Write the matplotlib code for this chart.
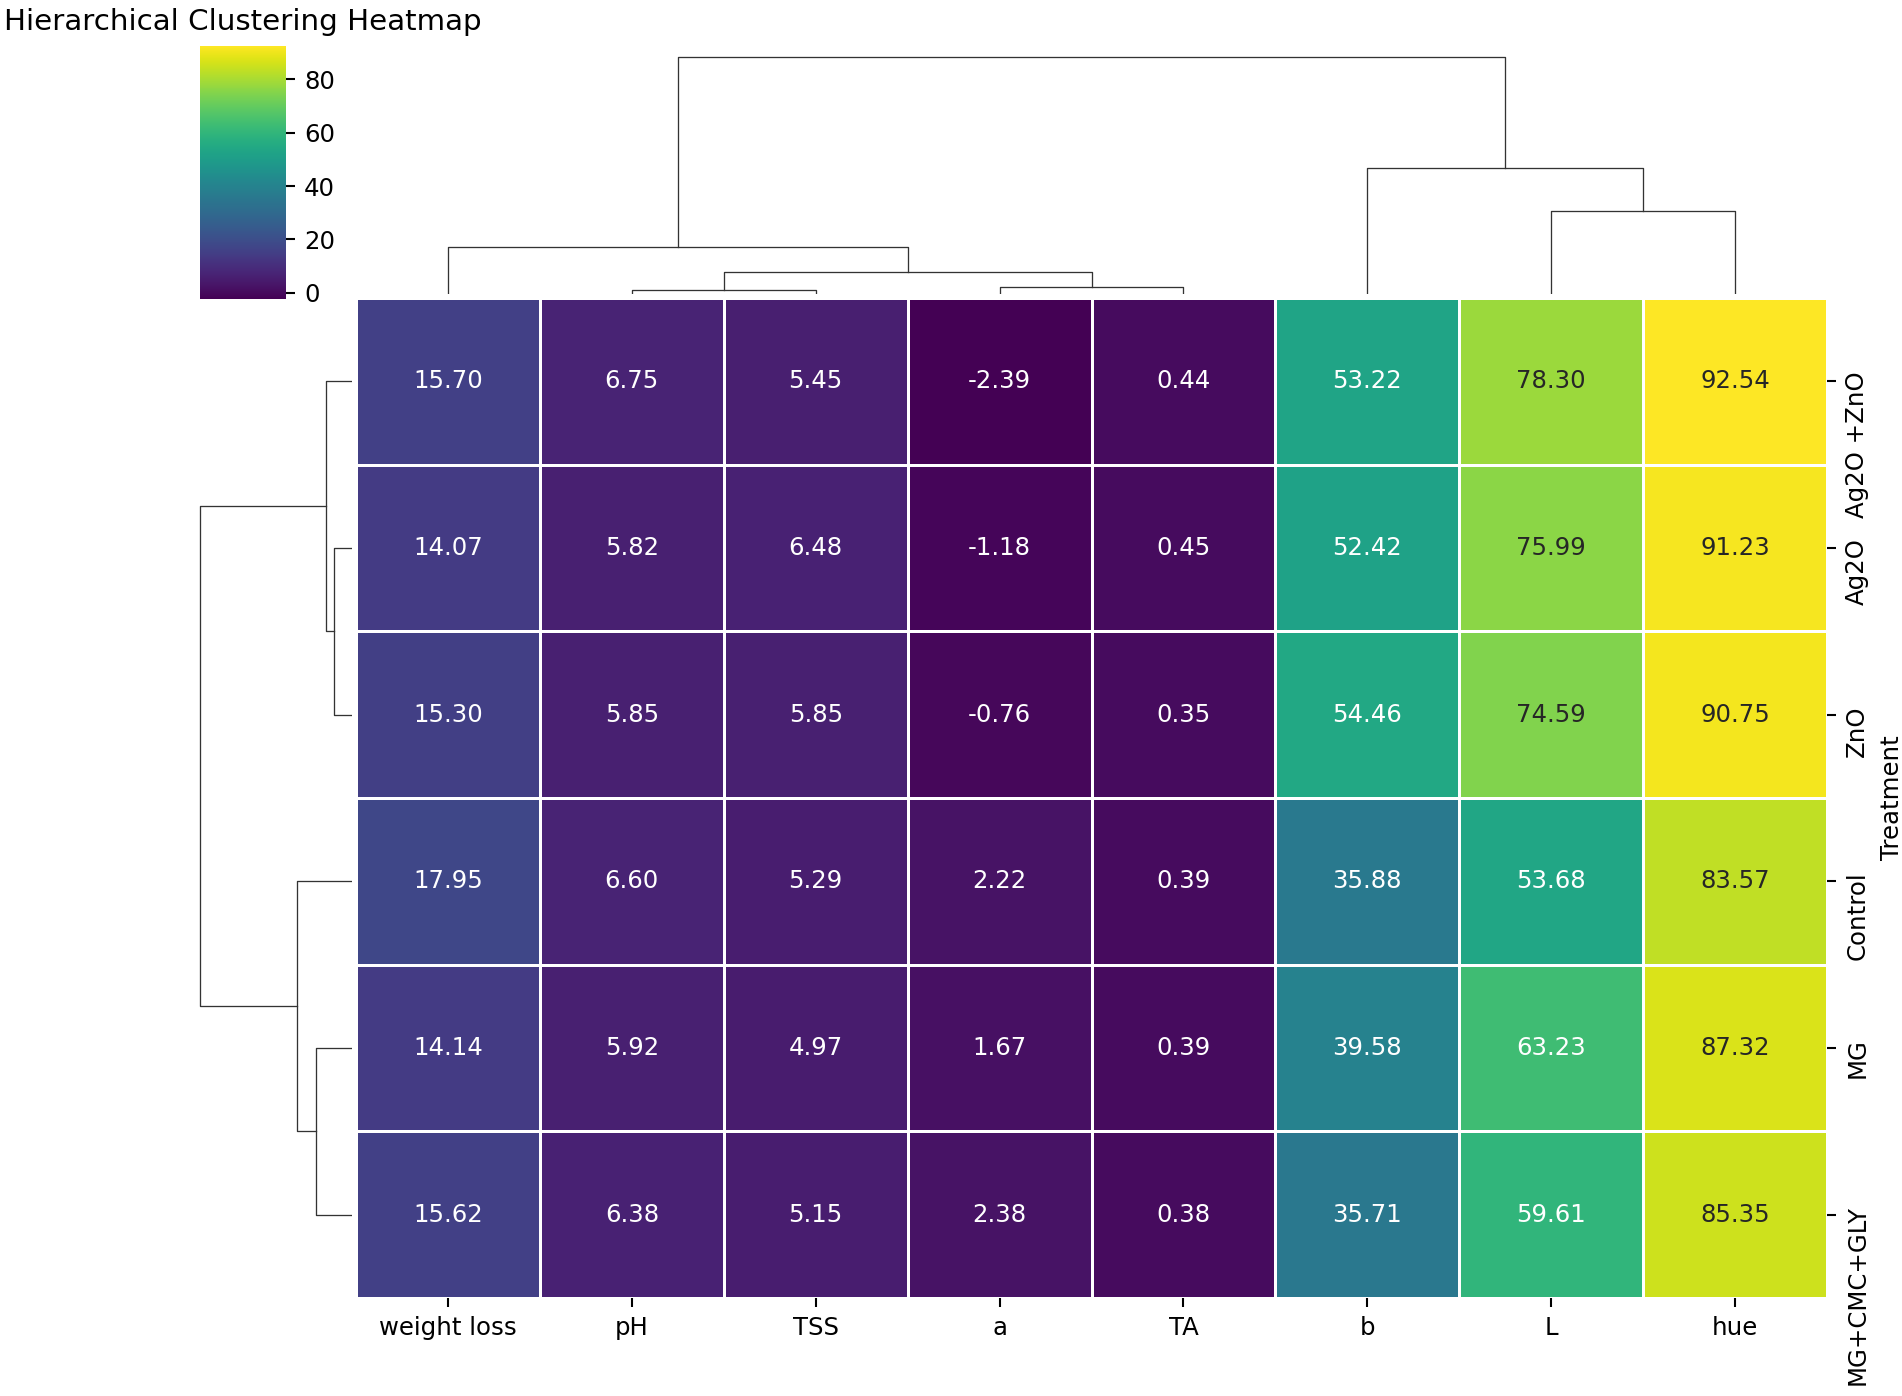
import numpy as np
import matplotlib
matplotlib.use("Agg")
import matplotlib.pyplot as plt
from matplotlib import colors as mcolors

treatments = ["Ag2O +ZnO", "Ag2O", "ZnO", "Control", "MG", "MG+CMC+GLY"]
features = ["weight loss", "pH", "TSS", "a", "TA", "b", "L", "hue"]

weight_loss = [15.70, 14.07, 15.30, 17.95, 14.14, 15.62]
ph = [6.75, 5.82, 5.85, 6.60, 5.92, 6.38]
tss = [5.45, 6.48, 5.85, 5.29, 4.97, 5.15]
a_val = [-2.39, -1.18, -0.76, 2.22, 1.67, 2.38]
ta = [0.44, 0.45, 0.35, 0.39, 0.39, 0.38]
b_val = [53.22, 52.42, 54.46, 35.88, 39.58, 35.71]
l_val = [78.30, 75.99, 74.59, 53.68, 63.23, 59.61]
hue = [92.54, 91.23, 90.75, 83.57, 87.32, 85.35]

data = np.column_stack([weight_loss, ph, tss, a_val, ta, b_val, l_val, hue])

FS = 9.4   # base font size
TFS = 11.3  # title size


def average_linkage(X):
    # naive average linkage on euclidean distance, scipy-like output
    n = X.shape[0]
    d = np.sqrt(((X[:, None, :] - X[None, :, :]) ** 2).sum(-1))
    clusters = {i: [i] for i in range(n)}
    Z = []
    nxt = n
    while len(clusters) > 1:
        keys = sorted(clusters)
        best = None
        for i in range(len(keys)):
            for j in range(i + 1, len(keys)):
                ma, mb = clusters[keys[i]], clusters[keys[j]]
                dist = d[np.ix_(ma, mb)].mean()
                if best is None or dist < best[2]:
                    best = (keys[i], keys[j], dist)
        a, b, dist = best
        Z.append([min(a, b), max(a, b), dist, len(clusters[a]) + len(clusters[b])])
        clusters[nxt] = clusters.pop(a) + clusters.pop(b)
        nxt += 1
    return np.array(Z)


def dendro_coords(Z, n):
    order = []

    def leaves(node):
        if node < n:
            order.append(node)
        else:
            leaves(int(Z[node - n, 0]))
            leaves(int(Z[node - n, 1]))
    leaves(2 * n - 2)
    pos = {leaf: 5 + 10 * i for i, leaf in enumerate(order)}
    height = {leaf: 0.0 for leaf in range(n)}
    segs = []
    for k, (a, b, dist, _) in enumerate(Z):
        a, b = int(a), int(b)
        xa, xb = pos[a], pos[b]
        segs.append(([xa, xa, xb, xb], [height[a], dist, dist, height[b]]))
        pos[n + k] = (xa + xb) / 2
        height[n + k] = dist
    return order, segs, Z[:, 2].max()


row_Z = average_linkage(data)
col_Z = average_linkage(data.T)
row_order, row_segs, row_max = dendro_coords(row_Z, data.shape[0])
col_order, col_segs, col_max = dendro_coords(col_Z, data.shape[1])

mat = data[row_order][:, col_order]
row_labels = [treatments[i] for i in row_order]
col_labels = [features[i] for i in col_order]

W, H = 1902, 1396
DPI = 187
fig = plt.figure(figsize=(W / DPI, H / DPI), dpi=DPI)


def px_axes(left, top, right, bottom):
    return fig.add_axes([left / W, 1 - bottom / H, (right - left) / W, (bottom - top) / H])


ax_heat = px_axes(356, 298, 1827, 1298)
ax_col = px_axes(356, 45, 1827, 294)
ax_row = px_axes(192, 298, 352, 1298)
ax_cbar = px_axes(200, 46, 286, 299)

cmap = plt.get_cmap("viridis")
norm = mcolors.Normalize(vmin=mat.min(), vmax=mat.max())
nr, nc = mat.shape
mesh = ax_heat.pcolormesh(np.arange(nc + 1), np.arange(nr + 1), mat, cmap=cmap, norm=norm,
                          edgecolors="white", linewidth=1)
ax_heat.set_xlim(0, nc)
ax_heat.set_ylim(nr, 0)
for s in ax_heat.spines.values():
    s.set_visible(False)


def rel_lum(c):
    rgb = np.array(mcolors.to_rgb(c))
    rgb = np.where(rgb <= .03928, rgb / 12.92, ((rgb + .055) / 1.055) ** 2.4)
    return rgb.dot([.2126, .7152, .0722])


for i in range(nr):
    for j in range(nc):
        v = mat[i, j]
        tc = ".15" if rel_lum(cmap(norm(v))) > .408 else "w"
        ax_heat.text(j + 0.5, i + 0.5, "%.2f" % v, ha="center", va="center", color=tc, fontsize=FS)

ax_heat.set_xticks(np.arange(nc) + 0.5)
ax_heat.set_xticklabels(col_labels, fontsize=FS)
ax_heat.set_yticks(np.arange(nr) + 0.5)
ax_heat.yaxis.tick_right()
ax_heat.set_yticklabels(row_labels, rotation=90, fontsize=FS)
ax_heat.yaxis.set_label_position("right")
ax_heat.set_ylabel("Treatment", fontsize=FS)

# column dendrogram
for xs, ys in col_segs:
    ax_col.plot(xs, ys, color="0.2", lw=0.5)
ax_col.set_xlim(0, nc * 10)
ax_col.set_ylim(0, col_max * 1.05)
ax_col.axis("off")

# row dendrogram
for xs, ys in row_segs:
    ax_row.plot(ys, xs, color="0.2", lw=0.5)
ax_row.set_ylim(0, nr * 10)
ax_row.set_xlim(0, row_max * 1.05)
ax_row.invert_xaxis()
ax_row.invert_yaxis()
ax_row.axis("off")

cb = fig.colorbar(mesh, cax=ax_cbar)
cb.outline.set_linewidth(0)
cb.set_ticks([0, 20, 40, 60, 80])
ax_cbar.tick_params(labelsize=FS)
ax_cbar.set_title("Hierarchical Clustering Heatmap", fontsize=TFS)

fig.savefig("out.png", dpi=DPI)
